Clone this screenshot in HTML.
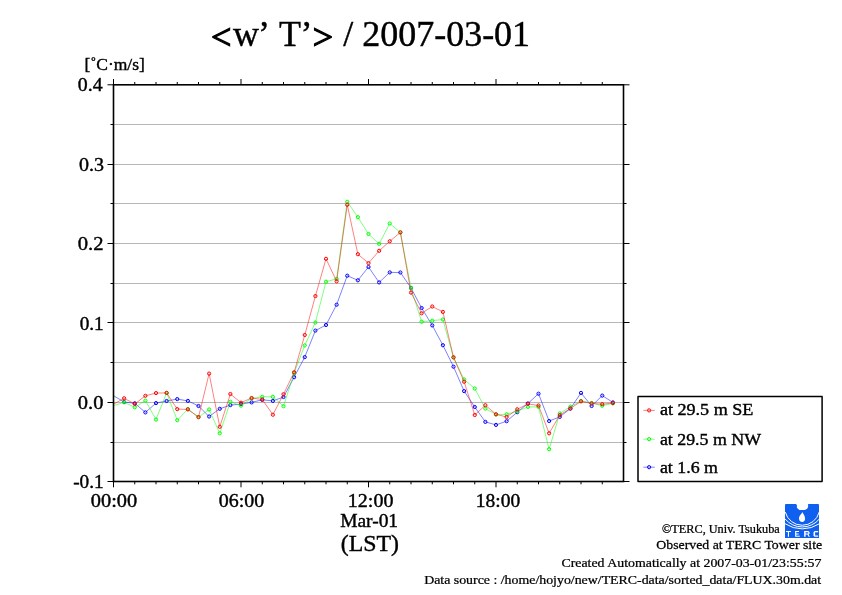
<!DOCTYPE html>
<html><head><meta charset="utf-8"><style>
html,body{margin:0;padding:0;background:#fff;}
body{width:842px;height:595px;overflow:hidden;}
svg{display:block;will-change:transform;}
text{font-family:"Liberation Serif",serif;fill:#000;stroke:#000;stroke-width:0.4px;}
.title{font-size:36px;}
.unit{font-size:17.5px;}
.t19{font-size:19px;}
.t23{font-size:23px;}
.t17{font-size:17px;}
.t13{font-size:13px;stroke-width:0.25px;}
.t11{font-size:11.5px;stroke-width:0.25px;}
</style></head><body>
<svg width="842" height="595" viewBox="0 0 842 595">
<defs><clipPath id="pc"><rect x="113.5" y="84.8" width="510.0" height="396.7"/></clipPath></defs>
<rect width="842" height="595" fill="#fff"/>
<line x1="113.5" y1="124.5" x2="623.5" y2="124.5" stroke="#b6b6b6" stroke-width="1"/>
<line x1="113.5" y1="164.5" x2="623.5" y2="164.5" stroke="#b6b6b6" stroke-width="1"/>
<line x1="113.5" y1="203.5" x2="623.5" y2="203.5" stroke="#b6b6b6" stroke-width="1"/>
<line x1="113.5" y1="243.5" x2="623.5" y2="243.5" stroke="#b6b6b6" stroke-width="1"/>
<line x1="113.5" y1="283.5" x2="623.5" y2="283.5" stroke="#b6b6b6" stroke-width="1"/>
<line x1="113.5" y1="322.5" x2="623.5" y2="322.5" stroke="#b6b6b6" stroke-width="1"/>
<line x1="113.5" y1="362.5" x2="623.5" y2="362.5" stroke="#b6b6b6" stroke-width="1"/>
<line x1="113.5" y1="402.5" x2="623.5" y2="402.5" stroke="#b6b6b6" stroke-width="1"/>
<line x1="113.5" y1="442.5" x2="623.5" y2="442.5" stroke="#b6b6b6" stroke-width="1"/>
<g clip-path="url(#pc)">
<polyline points="113.50,395.70 124.12,402.00 134.75,403.30 145.38,412.40 156.00,403.10 166.62,401.00 177.25,399.10 187.88,400.90 198.50,406.00 209.12,416.50 219.75,408.80 230.38,405.10 241.00,404.10 251.62,402.40 262.25,399.80 272.88,400.90 283.50,397.00 294.12,377.20 304.75,357.10 315.38,330.60 326.00,325.00 336.62,304.70 347.25,275.70 357.88,280.30 368.50,267.00 379.12,282.40 389.75,272.40 400.38,272.50 411.00,287.90 421.62,308.00 432.25,325.40 442.88,345.20 453.50,366.70 464.12,391.10 474.75,407.00 485.38,421.90 496.00,424.90 506.62,421.20 517.25,412.20 527.88,403.50 538.50,393.70 549.12,421.00 559.75,416.90 570.38,408.60 581.00,392.90 591.62,406.00 602.25,395.60 612.88,402.40" fill="none" stroke="#0000ff" stroke-width="0.5" stroke-linejoin="round"/><circle cx="124.12" cy="402.00" r="1.6" fill="none" stroke="#0000ff" stroke-width="1.0"/><circle cx="134.75" cy="403.30" r="1.6" fill="none" stroke="#0000ff" stroke-width="1.0"/><circle cx="145.38" cy="412.40" r="1.6" fill="none" stroke="#0000ff" stroke-width="1.0"/><circle cx="156.00" cy="403.10" r="1.6" fill="none" stroke="#0000ff" stroke-width="1.0"/><circle cx="166.62" cy="401.00" r="1.6" fill="none" stroke="#0000ff" stroke-width="1.0"/><circle cx="177.25" cy="399.10" r="1.6" fill="none" stroke="#0000ff" stroke-width="1.0"/><circle cx="187.88" cy="400.90" r="1.6" fill="none" stroke="#0000ff" stroke-width="1.0"/><circle cx="198.50" cy="406.00" r="1.6" fill="none" stroke="#0000ff" stroke-width="1.0"/><circle cx="209.12" cy="416.50" r="1.6" fill="none" stroke="#0000ff" stroke-width="1.0"/><circle cx="219.75" cy="408.80" r="1.6" fill="none" stroke="#0000ff" stroke-width="1.0"/><circle cx="230.38" cy="405.10" r="1.6" fill="none" stroke="#0000ff" stroke-width="1.0"/><circle cx="241.00" cy="404.10" r="1.6" fill="none" stroke="#0000ff" stroke-width="1.0"/><circle cx="251.62" cy="402.40" r="1.6" fill="none" stroke="#0000ff" stroke-width="1.0"/><circle cx="262.25" cy="399.80" r="1.6" fill="none" stroke="#0000ff" stroke-width="1.0"/><circle cx="272.88" cy="400.90" r="1.6" fill="none" stroke="#0000ff" stroke-width="1.0"/><circle cx="283.50" cy="397.00" r="1.6" fill="none" stroke="#0000ff" stroke-width="1.0"/><circle cx="294.12" cy="377.20" r="1.6" fill="none" stroke="#0000ff" stroke-width="1.0"/><circle cx="304.75" cy="357.10" r="1.6" fill="none" stroke="#0000ff" stroke-width="1.0"/><circle cx="315.38" cy="330.60" r="1.6" fill="none" stroke="#0000ff" stroke-width="1.0"/><circle cx="326.00" cy="325.00" r="1.6" fill="none" stroke="#0000ff" stroke-width="1.0"/><circle cx="336.62" cy="304.70" r="1.6" fill="none" stroke="#0000ff" stroke-width="1.0"/><circle cx="347.25" cy="275.70" r="1.6" fill="none" stroke="#0000ff" stroke-width="1.0"/><circle cx="357.88" cy="280.30" r="1.6" fill="none" stroke="#0000ff" stroke-width="1.0"/><circle cx="368.50" cy="267.00" r="1.6" fill="none" stroke="#0000ff" stroke-width="1.0"/><circle cx="379.12" cy="282.40" r="1.6" fill="none" stroke="#0000ff" stroke-width="1.0"/><circle cx="389.75" cy="272.40" r="1.6" fill="none" stroke="#0000ff" stroke-width="1.0"/><circle cx="400.38" cy="272.50" r="1.6" fill="none" stroke="#0000ff" stroke-width="1.0"/><circle cx="411.00" cy="287.90" r="1.6" fill="none" stroke="#0000ff" stroke-width="1.0"/><circle cx="421.62" cy="308.00" r="1.6" fill="none" stroke="#0000ff" stroke-width="1.0"/><circle cx="432.25" cy="325.40" r="1.6" fill="none" stroke="#0000ff" stroke-width="1.0"/><circle cx="442.88" cy="345.20" r="1.6" fill="none" stroke="#0000ff" stroke-width="1.0"/><circle cx="453.50" cy="366.70" r="1.6" fill="none" stroke="#0000ff" stroke-width="1.0"/><circle cx="464.12" cy="391.10" r="1.6" fill="none" stroke="#0000ff" stroke-width="1.0"/><circle cx="474.75" cy="407.00" r="1.6" fill="none" stroke="#0000ff" stroke-width="1.0"/><circle cx="485.38" cy="421.90" r="1.6" fill="none" stroke="#0000ff" stroke-width="1.0"/><circle cx="496.00" cy="424.90" r="1.6" fill="none" stroke="#0000ff" stroke-width="1.0"/><circle cx="506.62" cy="421.20" r="1.6" fill="none" stroke="#0000ff" stroke-width="1.0"/><circle cx="517.25" cy="412.20" r="1.6" fill="none" stroke="#0000ff" stroke-width="1.0"/><circle cx="527.88" cy="403.50" r="1.6" fill="none" stroke="#0000ff" stroke-width="1.0"/><circle cx="538.50" cy="393.70" r="1.6" fill="none" stroke="#0000ff" stroke-width="1.0"/><circle cx="549.12" cy="421.00" r="1.6" fill="none" stroke="#0000ff" stroke-width="1.0"/><circle cx="559.75" cy="416.90" r="1.6" fill="none" stroke="#0000ff" stroke-width="1.0"/><circle cx="570.38" cy="408.60" r="1.6" fill="none" stroke="#0000ff" stroke-width="1.0"/><circle cx="581.00" cy="392.90" r="1.6" fill="none" stroke="#0000ff" stroke-width="1.0"/><circle cx="591.62" cy="406.00" r="1.6" fill="none" stroke="#0000ff" stroke-width="1.0"/><circle cx="602.25" cy="395.60" r="1.6" fill="none" stroke="#0000ff" stroke-width="1.0"/><circle cx="612.88" cy="402.40" r="1.6" fill="none" stroke="#0000ff" stroke-width="1.0"/>
<polyline points="113.50,405.70 124.12,402.30 134.75,407.30 145.38,400.60 156.00,419.50 166.62,392.90 177.25,420.20 187.88,409.10 198.50,417.10 209.12,409.50 219.75,433.30 230.38,401.80 241.00,405.60 251.62,398.50 262.25,396.80 272.88,396.80 283.50,406.20 294.12,373.10 304.75,345.40 315.38,322.50 326.00,281.70 336.62,278.90 347.25,201.80 357.88,217.20 368.50,234.00 379.12,243.80 389.75,223.50 400.38,232.40 411.00,288.20 421.62,321.70 432.25,320.70 442.88,319.50 453.50,357.50 464.12,379.50 474.75,388.50 485.38,408.60 496.00,414.50 506.62,414.30 517.25,411.30 527.88,406.90 538.50,406.90 549.12,449.20 559.75,413.40 570.38,406.70 581.00,401.00 591.62,403.00 602.25,405.70 612.88,403.40" fill="none" stroke="#00ff00" stroke-width="0.5" stroke-linejoin="round"/><circle cx="124.12" cy="402.30" r="1.6" fill="none" stroke="#00ff00" stroke-width="1.0"/><circle cx="134.75" cy="407.30" r="1.6" fill="none" stroke="#00ff00" stroke-width="1.0"/><circle cx="145.38" cy="400.60" r="1.6" fill="none" stroke="#00ff00" stroke-width="1.0"/><circle cx="156.00" cy="419.50" r="1.6" fill="none" stroke="#00ff00" stroke-width="1.0"/><circle cx="166.62" cy="392.90" r="1.6" fill="none" stroke="#00ff00" stroke-width="1.0"/><circle cx="177.25" cy="420.20" r="1.6" fill="none" stroke="#00ff00" stroke-width="1.0"/><circle cx="187.88" cy="409.10" r="1.6" fill="none" stroke="#00ff00" stroke-width="1.0"/><circle cx="198.50" cy="417.10" r="1.6" fill="none" stroke="#00ff00" stroke-width="1.0"/><circle cx="209.12" cy="409.50" r="1.6" fill="none" stroke="#00ff00" stroke-width="1.0"/><circle cx="219.75" cy="433.30" r="1.6" fill="none" stroke="#00ff00" stroke-width="1.0"/><circle cx="230.38" cy="401.80" r="1.6" fill="none" stroke="#00ff00" stroke-width="1.0"/><circle cx="241.00" cy="405.60" r="1.6" fill="none" stroke="#00ff00" stroke-width="1.0"/><circle cx="251.62" cy="398.50" r="1.6" fill="none" stroke="#00ff00" stroke-width="1.0"/><circle cx="262.25" cy="396.80" r="1.6" fill="none" stroke="#00ff00" stroke-width="1.0"/><circle cx="272.88" cy="396.80" r="1.6" fill="none" stroke="#00ff00" stroke-width="1.0"/><circle cx="283.50" cy="406.20" r="1.6" fill="none" stroke="#00ff00" stroke-width="1.0"/><circle cx="294.12" cy="373.10" r="1.6" fill="none" stroke="#00ff00" stroke-width="1.0"/><circle cx="304.75" cy="345.40" r="1.6" fill="none" stroke="#00ff00" stroke-width="1.0"/><circle cx="315.38" cy="322.50" r="1.6" fill="none" stroke="#00ff00" stroke-width="1.0"/><circle cx="326.00" cy="281.70" r="1.6" fill="none" stroke="#00ff00" stroke-width="1.0"/><circle cx="336.62" cy="278.90" r="1.6" fill="none" stroke="#00ff00" stroke-width="1.0"/><circle cx="347.25" cy="201.80" r="1.6" fill="none" stroke="#00ff00" stroke-width="1.0"/><circle cx="357.88" cy="217.20" r="1.6" fill="none" stroke="#00ff00" stroke-width="1.0"/><circle cx="368.50" cy="234.00" r="1.6" fill="none" stroke="#00ff00" stroke-width="1.0"/><circle cx="379.12" cy="243.80" r="1.6" fill="none" stroke="#00ff00" stroke-width="1.0"/><circle cx="389.75" cy="223.50" r="1.6" fill="none" stroke="#00ff00" stroke-width="1.0"/><circle cx="400.38" cy="232.40" r="1.6" fill="none" stroke="#00ff00" stroke-width="1.0"/><circle cx="411.00" cy="288.20" r="1.6" fill="none" stroke="#00ff00" stroke-width="1.0"/><circle cx="421.62" cy="321.70" r="1.6" fill="none" stroke="#00ff00" stroke-width="1.0"/><circle cx="432.25" cy="320.70" r="1.6" fill="none" stroke="#00ff00" stroke-width="1.0"/><circle cx="442.88" cy="319.50" r="1.6" fill="none" stroke="#00ff00" stroke-width="1.0"/><circle cx="453.50" cy="357.50" r="1.6" fill="none" stroke="#00ff00" stroke-width="1.0"/><circle cx="464.12" cy="379.50" r="1.6" fill="none" stroke="#00ff00" stroke-width="1.0"/><circle cx="474.75" cy="388.50" r="1.6" fill="none" stroke="#00ff00" stroke-width="1.0"/><circle cx="485.38" cy="408.60" r="1.6" fill="none" stroke="#00ff00" stroke-width="1.0"/><circle cx="496.00" cy="414.50" r="1.6" fill="none" stroke="#00ff00" stroke-width="1.0"/><circle cx="506.62" cy="414.30" r="1.6" fill="none" stroke="#00ff00" stroke-width="1.0"/><circle cx="517.25" cy="411.30" r="1.6" fill="none" stroke="#00ff00" stroke-width="1.0"/><circle cx="527.88" cy="406.90" r="1.6" fill="none" stroke="#00ff00" stroke-width="1.0"/><circle cx="538.50" cy="406.90" r="1.6" fill="none" stroke="#00ff00" stroke-width="1.0"/><circle cx="549.12" cy="449.20" r="1.6" fill="none" stroke="#00ff00" stroke-width="1.0"/><circle cx="559.75" cy="413.40" r="1.6" fill="none" stroke="#00ff00" stroke-width="1.0"/><circle cx="570.38" cy="406.70" r="1.6" fill="none" stroke="#00ff00" stroke-width="1.0"/><circle cx="581.00" cy="401.00" r="1.6" fill="none" stroke="#00ff00" stroke-width="1.0"/><circle cx="591.62" cy="403.00" r="1.6" fill="none" stroke="#00ff00" stroke-width="1.0"/><circle cx="602.25" cy="405.70" r="1.6" fill="none" stroke="#00ff00" stroke-width="1.0"/><circle cx="612.88" cy="403.40" r="1.6" fill="none" stroke="#00ff00" stroke-width="1.0"/>
<polyline points="113.50,404.20 124.12,398.30 134.75,404.00 145.38,395.80 156.00,393.10 166.62,392.90 177.25,409.10 187.88,409.40 198.50,417.10 209.12,373.60 219.75,426.80 230.38,394.00 241.00,402.70 251.62,398.00 262.25,399.50 272.88,414.70 283.50,394.20 294.12,372.30 304.75,335.00 315.38,296.10 326.00,258.80 336.62,281.30 347.25,204.80 357.88,254.20 368.50,263.10 379.12,250.80 389.75,241.30 400.38,232.40 411.00,292.60 421.62,313.30 432.25,306.50 442.88,311.90 453.50,357.30 464.12,381.70 474.75,415.00 485.38,405.20 496.00,414.30 506.62,417.00 517.25,409.30 527.88,403.90 538.50,405.50 549.12,433.30 559.75,415.10 570.38,408.50 581.00,401.40 591.62,403.40 602.25,404.20 612.88,403.00" fill="none" stroke="#ff0000" stroke-width="0.5" stroke-linejoin="round"/><circle cx="124.12" cy="398.30" r="1.6" fill="none" stroke="#ff0000" stroke-width="1.0"/><circle cx="134.75" cy="404.00" r="1.6" fill="none" stroke="#ff0000" stroke-width="1.0"/><circle cx="145.38" cy="395.80" r="1.6" fill="none" stroke="#ff0000" stroke-width="1.0"/><circle cx="156.00" cy="393.10" r="1.6" fill="none" stroke="#ff0000" stroke-width="1.0"/><circle cx="166.62" cy="392.90" r="1.6" fill="none" stroke="#ff0000" stroke-width="1.0"/><circle cx="177.25" cy="409.10" r="1.6" fill="none" stroke="#ff0000" stroke-width="1.0"/><circle cx="187.88" cy="409.40" r="1.6" fill="none" stroke="#ff0000" stroke-width="1.0"/><circle cx="198.50" cy="417.10" r="1.6" fill="none" stroke="#ff0000" stroke-width="1.0"/><circle cx="209.12" cy="373.60" r="1.6" fill="none" stroke="#ff0000" stroke-width="1.0"/><circle cx="219.75" cy="426.80" r="1.6" fill="none" stroke="#ff0000" stroke-width="1.0"/><circle cx="230.38" cy="394.00" r="1.6" fill="none" stroke="#ff0000" stroke-width="1.0"/><circle cx="241.00" cy="402.70" r="1.6" fill="none" stroke="#ff0000" stroke-width="1.0"/><circle cx="251.62" cy="398.00" r="1.6" fill="none" stroke="#ff0000" stroke-width="1.0"/><circle cx="262.25" cy="399.50" r="1.6" fill="none" stroke="#ff0000" stroke-width="1.0"/><circle cx="272.88" cy="414.70" r="1.6" fill="none" stroke="#ff0000" stroke-width="1.0"/><circle cx="283.50" cy="394.20" r="1.6" fill="none" stroke="#ff0000" stroke-width="1.0"/><circle cx="294.12" cy="372.30" r="1.6" fill="none" stroke="#ff0000" stroke-width="1.0"/><circle cx="304.75" cy="335.00" r="1.6" fill="none" stroke="#ff0000" stroke-width="1.0"/><circle cx="315.38" cy="296.10" r="1.6" fill="none" stroke="#ff0000" stroke-width="1.0"/><circle cx="326.00" cy="258.80" r="1.6" fill="none" stroke="#ff0000" stroke-width="1.0"/><circle cx="336.62" cy="281.30" r="1.6" fill="none" stroke="#ff0000" stroke-width="1.0"/><circle cx="347.25" cy="204.80" r="1.6" fill="none" stroke="#ff0000" stroke-width="1.0"/><circle cx="357.88" cy="254.20" r="1.6" fill="none" stroke="#ff0000" stroke-width="1.0"/><circle cx="368.50" cy="263.10" r="1.6" fill="none" stroke="#ff0000" stroke-width="1.0"/><circle cx="379.12" cy="250.80" r="1.6" fill="none" stroke="#ff0000" stroke-width="1.0"/><circle cx="389.75" cy="241.30" r="1.6" fill="none" stroke="#ff0000" stroke-width="1.0"/><circle cx="400.38" cy="232.40" r="1.6" fill="none" stroke="#ff0000" stroke-width="1.0"/><circle cx="411.00" cy="292.60" r="1.6" fill="none" stroke="#ff0000" stroke-width="1.0"/><circle cx="421.62" cy="313.30" r="1.6" fill="none" stroke="#ff0000" stroke-width="1.0"/><circle cx="432.25" cy="306.50" r="1.6" fill="none" stroke="#ff0000" stroke-width="1.0"/><circle cx="442.88" cy="311.90" r="1.6" fill="none" stroke="#ff0000" stroke-width="1.0"/><circle cx="453.50" cy="357.30" r="1.6" fill="none" stroke="#ff0000" stroke-width="1.0"/><circle cx="464.12" cy="381.70" r="1.6" fill="none" stroke="#ff0000" stroke-width="1.0"/><circle cx="474.75" cy="415.00" r="1.6" fill="none" stroke="#ff0000" stroke-width="1.0"/><circle cx="485.38" cy="405.20" r="1.6" fill="none" stroke="#ff0000" stroke-width="1.0"/><circle cx="496.00" cy="414.30" r="1.6" fill="none" stroke="#ff0000" stroke-width="1.0"/><circle cx="506.62" cy="417.00" r="1.6" fill="none" stroke="#ff0000" stroke-width="1.0"/><circle cx="517.25" cy="409.30" r="1.6" fill="none" stroke="#ff0000" stroke-width="1.0"/><circle cx="527.88" cy="403.90" r="1.6" fill="none" stroke="#ff0000" stroke-width="1.0"/><circle cx="538.50" cy="405.50" r="1.6" fill="none" stroke="#ff0000" stroke-width="1.0"/><circle cx="549.12" cy="433.30" r="1.6" fill="none" stroke="#ff0000" stroke-width="1.0"/><circle cx="559.75" cy="415.10" r="1.6" fill="none" stroke="#ff0000" stroke-width="1.0"/><circle cx="570.38" cy="408.50" r="1.6" fill="none" stroke="#ff0000" stroke-width="1.0"/><circle cx="581.00" cy="401.40" r="1.6" fill="none" stroke="#ff0000" stroke-width="1.0"/><circle cx="591.62" cy="403.40" r="1.6" fill="none" stroke="#ff0000" stroke-width="1.0"/><circle cx="602.25" cy="404.20" r="1.6" fill="none" stroke="#ff0000" stroke-width="1.0"/><circle cx="612.88" cy="403.00" r="1.6" fill="none" stroke="#ff0000" stroke-width="1.0"/>
</g>
<path d="M113.50,481.5v5.8M113.50,84.8v-5.8M134.75,481.5v2.8M134.75,84.8v-2.8M156.00,481.5v2.8M156.00,84.8v-2.8M177.25,481.5v2.8M177.25,84.8v-2.8M198.50,481.5v2.8M198.50,84.8v-2.8M219.75,481.5v2.8M219.75,84.8v-2.8M241.00,481.5v5.8M241.00,84.8v-5.8M262.25,481.5v2.8M262.25,84.8v-2.8M283.50,481.5v2.8M283.50,84.8v-2.8M304.75,481.5v2.8M304.75,84.8v-2.8M326.00,481.5v2.8M326.00,84.8v-2.8M347.25,481.5v2.8M347.25,84.8v-2.8M368.50,481.5v5.8M368.50,84.8v-5.8M389.75,481.5v2.8M389.75,84.8v-2.8M411.00,481.5v2.8M411.00,84.8v-2.8M432.25,481.5v2.8M432.25,84.8v-2.8M453.50,481.5v2.8M453.50,84.8v-2.8M474.75,481.5v2.8M474.75,84.8v-2.8M496.00,481.5v5.8M496.00,84.8v-5.8M517.25,481.5v2.8M517.25,84.8v-2.8M538.50,481.5v2.8M538.50,84.8v-2.8M559.75,481.5v2.8M559.75,84.8v-2.8M581.00,481.5v2.8M581.00,84.8v-2.8M602.25,481.5v2.8M602.25,84.8v-2.8M113.5,84.80h-6M623.5,84.80h6M113.5,124.50h-3M623.5,124.50h3M113.5,164.50h-6M623.5,164.50h6M113.5,203.50h-3M623.5,203.50h3M113.5,243.50h-6M623.5,243.50h6M113.5,283.50h-3M623.5,283.50h3M113.5,322.50h-6M623.5,322.50h6M113.5,362.50h-3M623.5,362.50h3M113.5,402.50h-6M623.5,402.50h6M113.5,442.50h-3M623.5,442.50h3M113.5,481.50h-6M623.5,481.50h6" stroke="#000" stroke-width="1" fill="none"/>
<rect x="113.5" y="84.8" width="510.0" height="396.7" fill="none" stroke="#000" stroke-width="1.6"/>
<text x="0" y="91" class="t19" transform="matrix(1.0417,0,0,1,77.800,0)">0.4</text>
<text x="0" y="171" class="t19" transform="matrix(1.0522,0,0,1,78.900,0)">0.3</text>
<text x="0" y="250" class="t19" transform="matrix(1.0870,0,0,1,77.800,0)">0.2</text>
<text x="0" y="330" class="t19" transform="matrix(1.0130,0,0,1,79.700,0)">0.1</text>
<text x="0" y="409" class="t19" transform="matrix(1.0783,0,0,1,77.800,0)">0.0</text>
<text x="0" y="488" class="t19" transform="matrix(1.0138,0,0,1,73.200,0)">-0.1</text>
<text x="0" y="507" class="t19" transform="matrix(1.0744,0,0,1,90.800,0)">00:00</text>
<text x="0" y="507" class="t19" transform="matrix(1.0512,0,0,1,218.800,0)">06:00</text>
<text x="0" y="507" class="t19" transform="matrix(1.0524,0,0,1,347.848,0)">12:00</text>
<text x="0" y="507" class="t19" transform="matrix(1.0262,0,0,1,475.874,0)">18:00</text>
<text x="0" y="527" class="t19" transform="matrix(1.0241,0,0,1,340.150,0)">Mar-01</text>
<text x="0" y="551" class="t23" transform="matrix(1.0370,0,0,1,340.763,0)">(LST)</text>
<text x="0" y="415.5" class="t17" transform="matrix(1.0655,0,0,1,659.900,0)">at 29.5 m SE</text>
<text x="0" y="444.6" class="t17" transform="matrix(1.0500,0,0,1,659.900,0)">at 29.5 m NW</text>
<text x="0" y="472.6" class="t17" transform="matrix(1.0527,0,0,1,659.900,0)">at 1.6 m</text>
<text x="0" y="533" class="t11" transform="matrix(1.0673,0,0,1,662.000,0)">&#169;TERC, Univ. Tsukuba</text>
<text x="0" y="549.3" class="t13" transform="matrix(1.0641,0,0,1,656.300,0)">Observed at TERC Tower site</text>
<text x="0" y="566.7" class="t13" transform="matrix(1.0672,0,0,1,561.400,0)">Created Automatically at 2007-03-01/23:55:57</text>
<text x="0" y="583.6" class="t13" transform="matrix(1.0668,0,0,1,424.133,0)">Data source : /home/hojyo/new/TERC-data/sorted_data/FLUX.30m.dat</text>
<text y="46.3" class="title"><tspan x="210.9" dy="2.5" style="stroke-width:1.3px">&lt;</tspan><tspan x="233" dy="-2.5">w</tspan><tspan x="258">&#8217;</tspan><tspan x="279.05">T</tspan><tspan x="300.45">&#8217;</tspan><tspan x="312.7" dy="2.5" style="stroke-width:1.3px">&gt;</tspan><tspan x="343.13" dy="-2.5">/</tspan><tspan x="362.15">2007-03-01</tspan></text>
<text x="84.6" y="70.3" class="unit">[&#730;C&#183;m/s]</text>
<rect x="638" y="396.5" width="184.1" height="84.9" fill="none" stroke="#000" stroke-width="1.5" stroke-linejoin="round"/>
<line x1="643.4" y1="410.4" x2="654.8" y2="410.4" stroke="#ff0000" stroke-width="0.5"/>
<circle cx="649.1" cy="410.4" r="1.6" fill="none" stroke="#ff0000" stroke-width="1.0"/>
<line x1="643.4" y1="439.2" x2="654.8" y2="439.2" stroke="#00ff00" stroke-width="0.5"/>
<circle cx="649.1" cy="439.2" r="1.6" fill="none" stroke="#00ff00" stroke-width="1.0"/>
<line x1="643.4" y1="467.2" x2="654.8" y2="467.2" stroke="#0000ff" stroke-width="0.5"/>
<circle cx="649.1" cy="467.2" r="1.6" fill="none" stroke="#0000ff" stroke-width="1.0"/>
<g transform="translate(785,504)">
<path d="M1,0 H10.9 L11.9,1 V3.7 L14.3,6 H19.9 L22.1,4.8 L23.1,3 V0 H33 Q34,0 34,1 V34 H0 V1 Q0,0 1,0 Z" fill="#1060f0"/>
<path d="M17.4,7.9 C17.8,9.5 20.1,11.5 20.1,14.5 C20.1,16.6 18.8,17.9 17.1,17.9 C15.4,17.9 14,16.6 14,14.5 C14,11.5 17,9.5 17.4,7.9 Z" fill="#fff"/>
<g fill="none" stroke="#fff" stroke-width="1">
<path d="M0.3,8.1 A17.5,17.5 0 0 0 34.2,8.1"/>
<path d="M0,14.9 A22.46,22.46 0 0 0 34.5,14.9"/>
<path d="M0,19.7 A31.4,31.4 0 0 0 34.5,19.7"/>
</g>
<path fill="#fff" fill-rule="evenodd" d="M1,26.9H5.9V28H4V32.8H2.9V28H1Z M10.1,26.9H14V28H11.3V29.4H13.7V30.4H11.3V31.8H14.8V32.8H10.1Z M19.1,27.1H23.4L24.6,28.2V29.4L23.6,30.4L24.9,32.8H23.6L22.4,30.5H20.6V32.8H19.1Z M20.6,28.2V29.4H23.2V28.2Z M29.6,27.1H33.2V28.3H30.1V31.6H33.2V32.8H29.6L28.5,31.7V28.2Z"/>
</g>
</svg>
</body></html>
